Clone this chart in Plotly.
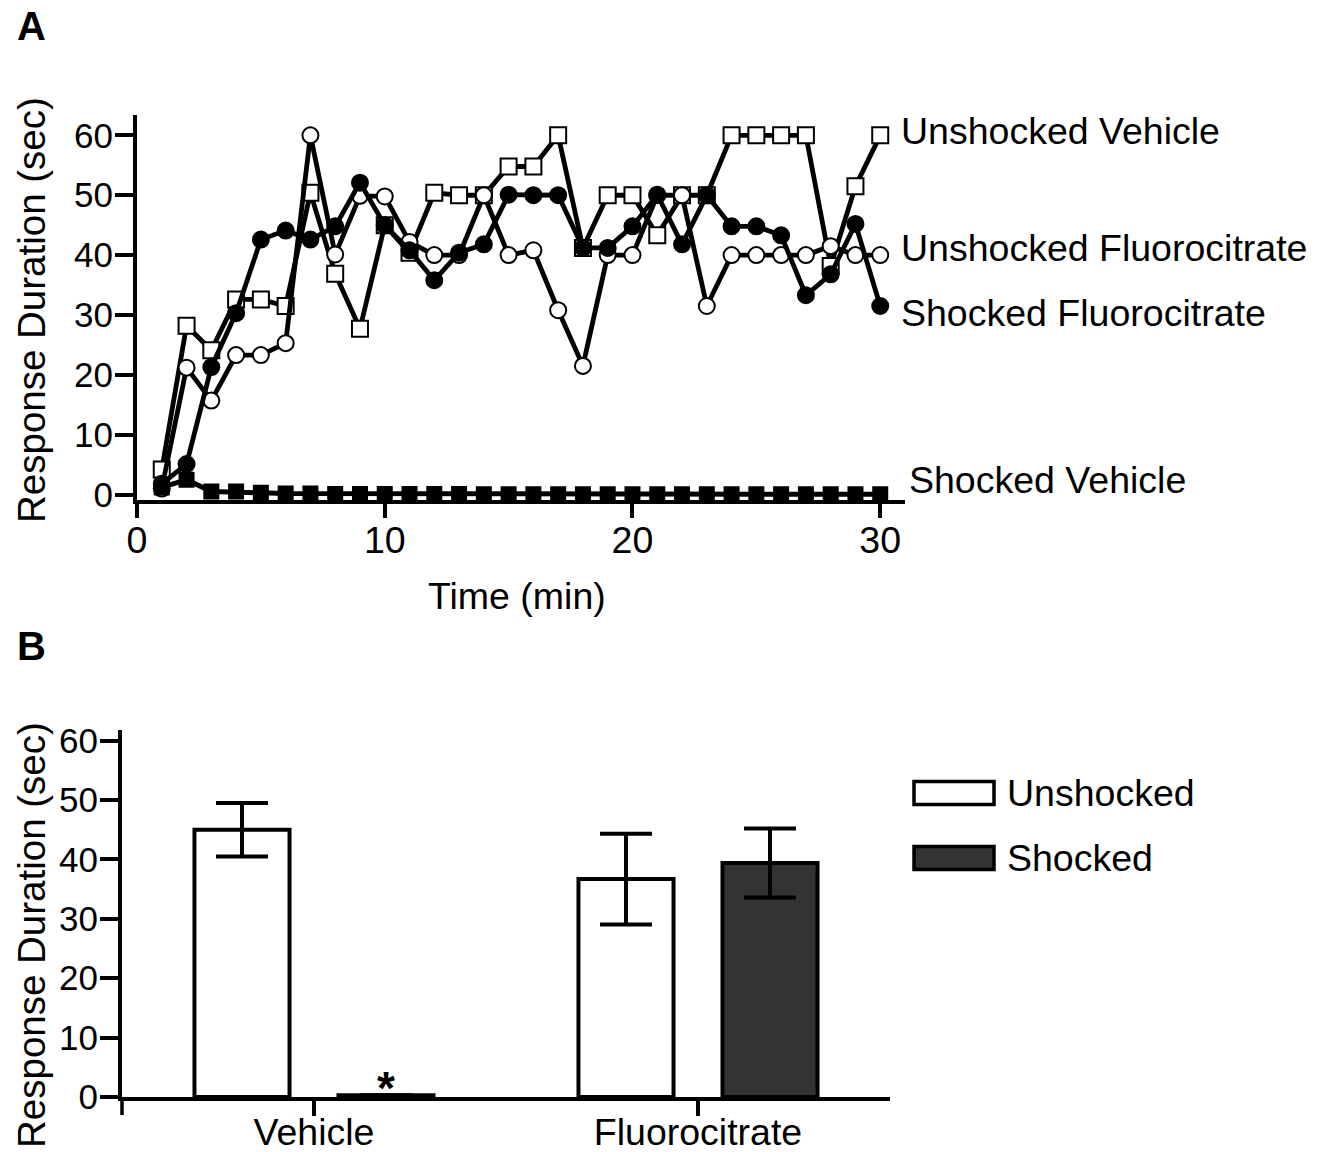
import plotly.graph_objects as go

W, H = 1329, 1152

# ---------------- Panel A data ----------------
time_min = list(range(1, 31))
unshocked_vehicle = [4.2, 28.2, 24.1, 32.6, 32.6, 31.5, 50.4, 36.9, 27.7, 45.0,
                     40.4, 50.4, 50.0, 50.0, 54.8, 54.8, 60.0, 41.2, 50.0, 50.0,
                     43.3, 50.0, 50.0, 60.0, 60.0, 60.0, 60.0, 38.2, 51.5, 60.0]
unshocked_fluoro = [1.0, 21.2, 15.7, 23.3, 23.3, 25.3, 60.0, 40.1, 49.9, 49.8,
                    42.2, 40.0, 40.0, 50.0, 40.0, 40.8, 30.8, 21.5, 40.0, 40.0,
                    50.0, 50.0, 31.5, 40.0, 40.0, 40.0, 40.0, 41.5, 40.0, 40.0]
shocked_fluoro = [1.8, 5.1, 21.3, 30.3, 42.6, 44.1, 42.6, 44.8, 52.1, 45.0,
                  40.8, 35.8, 40.4, 41.8, 50.1, 50.0, 50.0, 41.2, 41.2, 44.8,
                  50.1, 41.8, 50.0, 44.8, 44.8, 43.3, 33.3, 36.8, 45.2, 31.5]
shocked_vehicle = [1.2, 2.5, 0.5, 0.5, 0.3, 0.2, 0.2, 0.1, 0.1, 0.1,
                   0.1, 0.1, 0.1, 0.05, 0.05, 0.05, 0.05, 0.05, 0.05, 0.05,
                   0.05, 0.05, 0.05, 0.05, 0.05, 0.05, 0.05, 0.05, 0.05, 0.05]
series_labels_a = ["Unshocked Vehicle", "Unshocked Fluorocitrate",
                   "Shocked Fluorocitrate", "Shocked Vehicle"]
x_ticks_a = [0, 10, 20, 30]
y_ticks = [0, 10, 20, 30, 40, 50, 60]

# ---------------- Panel B data ----------------
groups = ["Vehicle", "Fluorocitrate"]
unshocked_mean = [45.0, 36.7]
unshocked_err = [4.5, 7.65]
shocked_mean = [0.3, 39.4]
shocked_err = [0.0, 5.8]
bar_labels = ["Unshocked", "Shocked"]

FONT = "Arial, Liberation Sans, sans-serif"
FS = 37.5      # labels
FT = 35        # y tick labels
BLACK = "#000000"
DARK = "#333333"


def px(x):
    return x / W


def py(y):
    return 1 - y / H


fig = go.Figure()

# Panel A traces
fig.add_trace(go.Scatter(
    x=time_min, y=unshocked_vehicle, mode="lines+markers", name=series_labels_a[0],
    line=dict(color=BLACK, width=4.8),
    marker=dict(symbol="square", size=16, color="white", line=dict(color=BLACK, width=2)),
    xaxis="x", yaxis="y", cliponaxis=False))
fig.add_trace(go.Scatter(
    x=time_min, y=unshocked_fluoro, mode="lines+markers", name=series_labels_a[1],
    line=dict(color=BLACK, width=4.8),
    marker=dict(symbol="circle", size=16, color="white", line=dict(color=BLACK, width=2)),
    xaxis="x", yaxis="y", cliponaxis=False))
fig.add_trace(go.Scatter(
    x=time_min, y=shocked_fluoro, mode="lines+markers", name=series_labels_a[2],
    line=dict(color=BLACK, width=4.8),
    marker=dict(symbol="circle", size=16, color=BLACK, line=dict(color=BLACK, width=2)),
    xaxis="x", yaxis="y", cliponaxis=False))
fig.add_trace(go.Scatter(
    x=time_min, y=shocked_vehicle, mode="lines+markers", name=series_labels_a[3],
    line=dict(color=BLACK, width=5),
    marker=dict(symbol="square", size=14, color=BLACK, line=dict(color=BLACK, width=2)),
    xaxis="x", yaxis="y", cliponaxis=False))

# Panel B traces
fig.add_trace(go.Bar(
    x=groups, y=unshocked_mean, name=bar_labels[0],
    marker=dict(color="white", line=dict(color=BLACK, width=4)),
    error_y=dict(type="data", array=unshocked_err, visible=True, color=BLACK,
                 thickness=4, width=26),
    xaxis="x2", yaxis="y2"))
fig.add_trace(go.Bar(
    x=groups, y=shocked_mean, name=bar_labels[1],
    marker=dict(color=DARK, line=dict(color=BLACK, width=4)),
    error_y=dict(type="data", array=shocked_err, visible=True, color=BLACK,
                 thickness=4, width=26),
    xaxis="x2", yaxis="y2"))

axis_common = dict(
    showgrid=False, zeroline=False, showline=True, linecolor=BLACK, linewidth=4,
    ticks="outside", tickcolor=BLACK, tickwidth=3.5, automargin=False,
    tickfont=dict(family=FONT, size=FT, color=BLACK),
)

fig.update_layout(
    template="none",
    width=W, height=H,
    margin=dict(l=0, r=0, t=0, b=0, pad=0, autoexpand=False),
    paper_bgcolor="white", plot_bgcolor="white",
    showlegend=False,
    barmode="group", bargap=0.25, bargroupgap=0.34,
    xaxis=dict(axis_common, domain=[px(137), px(905)], range=[0, 31],
               tickvals=x_ticks_a, ticklen=14, anchor="y", ticklabelstandoff=-10,
               tickfont=dict(family=FONT, size=FS, color=BLACK)),
    yaxis=dict(axis_common, domain=[py(500), py(115)], range=[-0.9, 63.4],
               tickvals=y_ticks, ticklen=18, anchor="x", ticklabelstandoff=-5),
    xaxis2=dict(axis_common, domain=[px(122), px(890)], range=[-0.5, 1.5],
                ticklen=15, anchor="y2", ticklabelstandoff=-16,
                tickfont=dict(family=FONT, size=FS, color=BLACK)),
    yaxis2=dict(axis_common, domain=[py(1097), py(730)], range=[0, 61.8],
                tickvals=y_ticks, ticklen=18, anchor="x2", ticklabelstandoff=-5),
)

ann = []
# panel letters
ann.append(dict(text="<b>A</b>", x=px(15), y=py(26), xref="paper", yref="paper",
                xanchor="left", yanchor="middle", showarrow=False,
                font=dict(family=FONT, size=40, color=BLACK)))
ann.append(dict(text="<b>B</b>", x=px(15), y=py(646), xref="paper", yref="paper",
                xanchor="left", yanchor="middle", showarrow=False,
                font=dict(family=FONT, size=40, color=BLACK)))
# axis titles
for cy in (310, 935):
    ann.append(dict(text="Response Duration (sec)", x=px(31), y=py(cy), xref="paper",
                    yref="paper", xanchor="center", yanchor="middle", textangle=-90,
                    showarrow=False, font=dict(family=FONT, size=38.5, color=BLACK)))
ann.append(dict(text="Time (min)", x=px(517), y=py(596), xref="paper", yref="paper",
                xanchor="center", yanchor="middle", showarrow=False,
                font=dict(family=FONT, size=FS, color=BLACK)))
# series labels for panel A
label_pos = [(899, 131), (899, 248), (899, 313), (907, 480)]
for lab, (lx, ly) in zip(series_labels_a, label_pos):
    ann.append(dict(text=lab, x=px(lx), y=py(ly), xref="paper", yref="paper",
                    xanchor="left", yanchor="middle", showarrow=False,
                    font=dict(family=FONT, size=FS, color=BLACK)))
# asterisk
ann.append(dict(text="<b>*</b>", x=px(386), y=py(1088), xref="paper", yref="paper",
                xanchor="center", yanchor="middle", showarrow=False,
                font=dict(family=FONT, size=46, color=BLACK)))
# legend for panel B
legend_rows = [(bar_labels[0], "white", 793), (bar_labels[1], DARK, 858)]
shapes = []
for lab, col, ly in legend_rows:
    shapes.append(dict(type="rect", xref="paper", yref="paper",
                       x0=px(914), x1=px(994), y0=py(ly - 11.5), y1=py(ly + 11.5),
                       fillcolor=col, line=dict(color=BLACK, width=3.5)))
    ann.append(dict(text=lab, x=px(1005), y=py(ly), xref="paper", yref="paper",
                    xanchor="left", yanchor="middle", showarrow=False,
                    font=dict(family=FONT, size=FS, color=BLACK)))
# small extension of the panel B y-axis below the x-axis
shapes.append(dict(type="line", xref="paper", yref="paper", x0=px(122), x1=px(122),
                   y0=py(1097), y1=py(1115), line=dict(color=BLACK, width=3.5)))

fig.update_layout(annotations=ann, shapes=shapes)

fig.write_html("out.html")
